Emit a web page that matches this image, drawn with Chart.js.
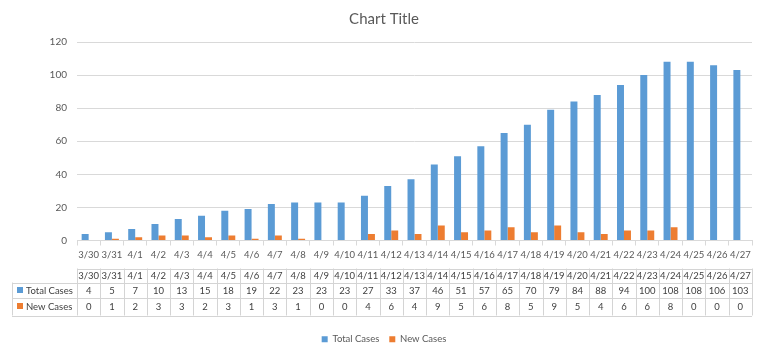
<!DOCTYPE html>
<html><head><meta charset="utf-8">
<script src="https://cdn.jsdelivr.net/npm/chart.js@4/dist/chart.umd.min.js"></script>
<style>html,body{margin:0;padding:0;background:#fff}#wrap{width:768px;height:356px}</style>
</head><body><div id="wrap"><canvas id="c" width="768" height="356"></canvas></div>
<script>
const categories = ["3/30","3/31","4/1","4/2","4/3","4/4","4/5","4/6","4/7","4/8","4/9","4/10","4/11","4/12","4/13","4/14","4/15","4/16","4/17","4/18","4/19","4/20","4/21","4/22","4/23","4/24","4/25","4/26","4/27"];
const totalCases = [4,5,7,10,13,15,18,19,22,23,23,23,27,33,37,46,51,57,65,70,79,84,88,94,100,108,108,106,103];
const newCases = [0,1,2,3,3,2,3,1,3,1,0,0,4,6,4,9,5,6,8,5,9,5,4,6,6,8,0,0,0];
const yTicks = [0,20,40,60,80,100,120];
const seriesNames = ["Total Cases","New Cases"];
const colors = ["#5B9BD5","#ED7D31"];
const FONT = "Lato";
const FS = 9.5;

const tablePlugin = {
  id: 'dataTable',
  afterDraw(chart) {
    const ctx = chart.ctx, x = chart.scales.x, ca = chart.chartArea;
    const n = categories.length, cw = ca.width / n;
    const top = ca.bottom;
    const r0 = top + 28, r1 = top + 42, r2 = top + 57, r3 = top + 75;
    const leftX = 12;
    ctx.save();
    ctx.strokeStyle = '#d4d4d4'; ctx.lineWidth = 1;
    const h = v => Math.round(v) + 0.5;
    ctx.beginPath();
    ctx.moveTo(ca.left, h(r0)); ctx.lineTo(ca.right, h(r0));
    ctx.moveTo(leftX, h(r1)); ctx.lineTo(ca.right, h(r1));
    ctx.moveTo(leftX, h(r2)); ctx.lineTo(ca.right, h(r2));
    ctx.moveTo(leftX, h(r3)); ctx.lineTo(ca.right, h(r3));
    ctx.moveTo(h(leftX), r1); ctx.lineTo(h(leftX), r3);
    for (let i = 0; i <= n; i++) {
      const bx = h(ca.left + i * cw);
      ctx.moveTo(bx, r0); ctx.lineTo(bx, r3);
    }
    ctx.stroke();
    ctx.font = FS + 'px ' + FONT;
    ctx.textAlign = 'center'; ctx.textBaseline = 'middle';
    ctx.fillStyle = '#404040';
    for (let i = 0; i < n; i++) {
      const cx = x.getPixelForValue(i);
      ctx.fillText(categories[i], cx, (r0 + r1) / 2 + 0.5);
      ctx.fillText(String(totalCases[i]), cx, (r1 + r2) / 2 + 0.5);
      ctx.fillText(String(newCases[i]), cx, (r2 + r3) / 2 + 0.5);
    }
    ctx.textAlign = 'left';
    const rows = [[r1, r2], [r2, r3]];
    rows.forEach((r, k) => {
      const cy = (r[0] + r[1]) / 2;
      ctx.fillStyle = colors[k];
      ctx.fillRect(17, Math.round(cy - 3.5), 6, 6);
      ctx.fillStyle = '#404040';
      ctx.fillText(seriesNames[k], 26, cy + 0.5);
    });
    ctx.restore();
  }
};

new Chart(document.getElementById('c'), {
  type: 'bar',
  data: {
    labels: categories,
    datasets: [
      { label: seriesNames[0], data: totalCases, backgroundColor: colors[0], categoryPercentage: 0.6, barPercentage: 1.0 },
      { label: seriesNames[1], data: newCases, backgroundColor: colors[1], categoryPercentage: 0.6, barPercentage: 1.0 }
    ]
  },
  options: {
    responsive: false, animation: false,
    layout: { padding: { left: 0, right: 0, top: 0, bottom: 2 } },
    plugins: {
      title: { display: true, text: 'Chart Title', color: '#595959', font: { family: FONT, size: 15, weight: 'normal' }, padding: { top: 10, bottom: 14 } },
      legend: { position: 'bottom', labels: { boxWidth: 6, boxHeight: 6, color: '#595959', font: { family: FONT, size: FS }, padding: 10 } },
      tooltip: { enabled: false }
    },
    scales: {
      x: {
        grid: { display: true, drawOnChartArea: false, drawTicks: true, tickLength: 5, offset: true, color: '#d9d9d9' },
        border: { color: '#d9d9d9' },
        ticks: { color: '#595959', font: { family: FONT, size: FS }, padding: 4, maxRotation: 0, autoSkip: false },
        afterFit(s) { s.height = 84; }
      },
      y: {
        min: 0, max: 120,
        afterBuildTicks(s) { s.ticks = yTicks.map(v => ({ value: v })); },
        grid: { color: '#d9d9d9', drawTicks: false },
        border: { display: false },
        ticks: { color: '#595959', font: { family: FONT, size: FS + 0.5 }, padding: 10 },
        afterFit(s) { s.width = 77; }
      },
      yRightSpace: {
        position: 'right', display: true,
        grid: { display: false, drawTicks: false },
        border: { display: false },
        ticks: { display: false },
        afterFit(s) { s.width = 16; }
      }
    }
  },
  plugins: [tablePlugin]
});
</script></body></html>
